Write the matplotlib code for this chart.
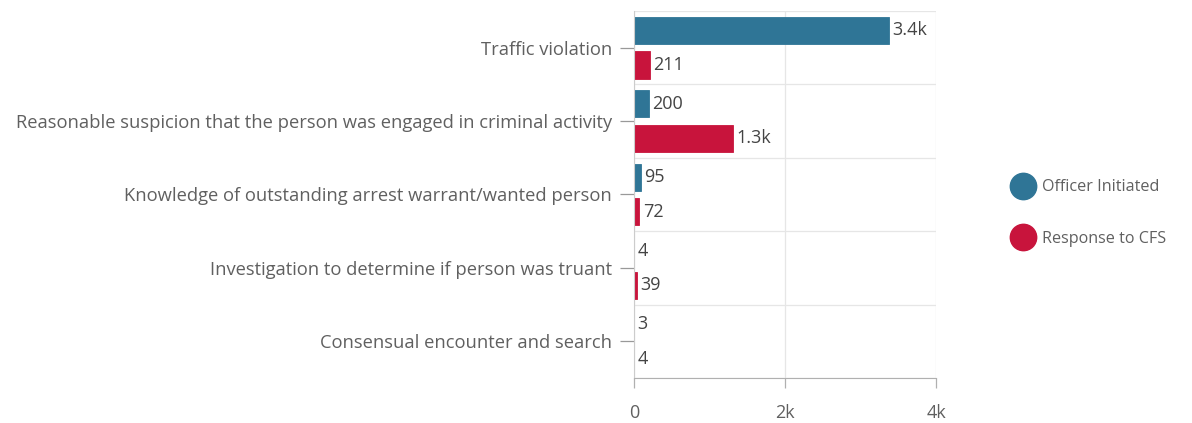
import matplotlib.pyplot as plt
import matplotlib.ticker as mtick
import numpy as np
from matplotlib.lines import Line2D

categories = [
    'Traffic violation',
    'Reasonable suspicion that the person was engaged in criminal activity',
    'Knowledge of outstanding arrest warrant/wanted person',
    'Investigation to determine if person was truant',
    'Consensual encounter and search',
]
officer_initiated = [3377, 200, 95, 4, 3]
response_to_cfs = [211, 1311, 72, 39, 4]
series_names = ['Officer Initiated', 'Response to CFS']
xticks = [0, 2000, 4000]
xtick_labels = ['0', '2k', '4k']

BLUE = '#2f7596'
RED = '#c8143c'
TEXT = '#606060'

plt.rcParams['font.family'] = ['Open Sans', 'DejaVu Sans']


def fmt(v):
    if v >= 1000:
        return f'{v / 1000:.1f}k'
    return str(v)


fig = plt.figure(figsize=(11.92, 4.23), dpi=100)
ax = fig.add_axes([634 / 1192, 1 - 378 / 423, 302 / 1192, 367 / 423])

y = np.arange(len(categories))
h = 0.37
off = 0.235
ax.barh(y - off, officer_initiated, height=h, color=BLUE, edgecolor=BLUE, linewidth=0.6)
ax.barh(y + off, response_to_cfs, height=h, color=RED, edgecolor=RED, linewidth=0.6)

for yy, v in zip(y - off, officer_initiated):
    ax.text(v + 45, yy, fmt(v), va='center', ha='left', fontsize=13, color='#444444')
for yy, v in zip(y + off, response_to_cfs):
    ax.text(v + 45, yy, fmt(v), va='center', ha='left', fontsize=13, color='#444444')

ax.set_xlim(0, 4000)
ax.set_ylim(len(categories) - 0.5, -0.5)
ax.set_yticks(y)
ax.set_yticklabels(categories, fontsize=13.2, color=TEXT)
ax.set_xticks(xticks)
ax.set_xticklabels(xtick_labels, fontsize=13, color=TEXT)

# category boundaries as grid lines
ax.yaxis.set_minor_locator(mtick.FixedLocator(np.arange(-0.5, len(categories), 1)))
ax.grid(axis='y', which='minor', color='#e6e6e6', linewidth=0.9)
ax.grid(axis='x', which='major', color='#e6e6e6', linewidth=0.9)
ax.tick_params(axis='y', which='minor', length=0)
ax.tick_params(axis='y', which='major', length=10, width=0.9, color='#999999', pad=6)
ax.tick_params(axis='x', which='major', length=7, width=0.9, color='#b0b0b0', pad=12)
ax.set_axisbelow(True)

for side in ['top', 'right']:
    ax.spines[side].set_visible(False)
ax.spines['left'].set_color('#cccccc')
ax.spines['bottom'].set_color('#b0b0b0')

handles = [Line2D([0], [0], marker='o', linestyle='', markersize=19, color=c) for c in [BLUE, RED]]
fig.legend(handles, series_names, loc='center left', bbox_to_anchor=(998 / 1192, 1 - 213 / 423),
           frameon=False, fontsize=11.6, labelcolor=TEXT, handletextpad=0.5, labelspacing=2.2,
           handlelength=1.3)

fig.savefig('out.png', dpi=100)
